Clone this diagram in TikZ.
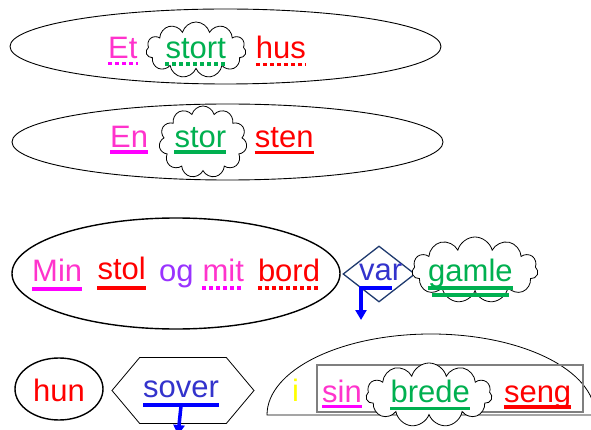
\documentclass[tikz,border=0pt]{standalone}
\usepackage{fontspec}
\setmainfont{Liberation Sans}
\usetikzlibrary{positioning,shapes.geometric,shapes.symbols,arrows.meta}
\definecolor{pinkish}{HTML}{FF33CC}
\definecolor{magentaLine}{HTML}{FF00FF}
\definecolor{grassGreen}{HTML}{00B050}
\definecolor{purpleOg}{HTML}{9933FF}
\definecolor{indigoVerb}{HTML}{3333CC}
\definecolor{navyEdge}{HTML}{1F3A6E}
\definecolor{yellowPrep}{HTML}{FFFF00}
\definecolor{grayEdge}{HTML}{7F7F7F}

\begin{document}
\begin{tikzpicture}[x=1pt, y=-1pt,
			word/.style={font=\fontsize{31}{36}\selectfont, inner sep=0pt, anchor=base west},
			phrase/.style={draw, ellipse, inner sep=0pt, line width=0.9pt},
			thickPhrase/.style={phrase, line width=1.4pt},
			cloudBox/.style={draw, cloud, cloud puffs=11, cloud ignores aspect, fill=white, inner sep=0pt, line width=0.8pt},
			verbBox/.style={draw=navyEdge, line width=1.3pt, inner sep=0pt},
			frameBox/.style={draw=grayEdge, line width=1.1pt, rectangle, inner sep=0pt},
			solidLine/.style={line width=3.5pt},
			dottedLine/.style={line width=3.3pt, dash pattern=on 4pt off 3pt},
			verbArrow/.style={line width=3.5pt, blue, -{Triangle[length=10pt,width=11pt]}},
			]
			\useasboundingbox (0,0) rectangle (591,430);
			
			% phrases
			\draw node[phrase, minimum width=431pt, minimum height=75pt] (row1) at (225.5,46.5) {};
			\draw node[phrase, minimum width=431pt, minimum height=76pt] (row2) at (227.5,142) {};
			\draw node[thickPhrase, minimum width=328pt, minimum height=111pt] (row3) at (176,273.5) {};
			\draw node[thickPhrase, minimum width=88pt, minimum height=62pt] (hunBox) at (59,389) {};
			\draw node[verbBox, diamond, minimum width=72pt, minimum height=56pt] (varBox) at (379,274) {};
			\draw node[verbBox, draw=black, line width=0.8pt, signal, signal to=west and east, signal pointer angle=100, minimum width=142pt, minimum height=66pt] (soverBox) at (183,390.5) {};
			
			% prepositional phrase
			\coordinate (ppLeft) at (267,415);
			\coordinate (ppRight) at (600,415);
			\draw[line width=0.8pt] (ppRight) -- (ppLeft) arc[start angle=180, end angle=0, x radius=164pt, y radius=81pt];
			\draw node[frameBox, minimum width=266pt, minimum height=47pt] (frame) at (450,388.5) {};
			
			% clouds
			\draw node[cloudBox, minimum width=100pt, minimum height=56pt] (cloud1) at (196,50) {};
			\draw node[cloudBox, minimum width=88pt, minimum height=72pt] (cloud2) at (203,142) {};
			\draw node[cloudBox, minimum width=126pt, minimum height=66pt] (cloud3) at (475,270) {};
			\draw node[cloudBox, minimum width=126pt, minimum height=64pt] (cloud4) at (429,395) {};
			
			% words
			\draw node[word, pinkish] (et) at (108,59) {Et};
			\draw node[word, grassGreen, base right=27.7pt of et] (stort) {stort};
			\draw node[word, red, base right=29.7pt of stort] (hus) {hus};
			
			\draw node[word, pinkish] (en) at (110,148) {En};
			\draw node[word, grassGreen, base right=26pt of en] (stor) {stor};
			\draw node[word, red, base right=28.3pt of stor] (sten) {sten};
			
			\draw node[word, pinkish] (min) at (32,281) {Min};
			\draw node[word, red, yshift=2pt, base right=15pt of min] (stol) {stol};
			\draw node[word, purpleOg] (og) at (159,281) {og};
			\draw node[word, pinkish, base right=8.5pt of og] (mit) {mit};
			\draw node[word, red, base right=13.7pt of mit] (bord) {bord};
			
			\draw node[word, indigoVerb] (var) at (359,280) {var};
			\draw node[word, grassGreen] (gamle) at (428,281) {gamle};
			
			\draw node[word, red] (hun) at (33,401) {hun};
			\draw node[word, indigoVerb] (sover) at (143,397) {sover};
			\draw node[word, yellowPrep] (i) at (292,401) {i};
			\draw node[word, pinkish] (sin) at (322,402) {sin};
			\draw node[word, grassGreen, base right=28.4pt of sin] (brede) {brede};
			\draw node[word, red, base right=33.7pt of brede] (seng) {seng};
			
			% underlines
			\foreach \w/\c/\d in {et/magentaLine/4.5, stort/grassGreen/5, hus/red/5.5, mit/magentaLine/7, bord/red/7}
			\draw [dottedLine, \c] ([yshift=-\d pt]\w.base west) -- ([yshift=-\d pt]\w.base east);
			\foreach \w/\c/\d in {en/magentaLine/4, stor/grassGreen/4, sten/red/4.5, min/magentaLine/8, stol/red/9, gamle/grassGreen/7, sin/magentaLine/4.5, brede/grassGreen/6.5, seng/red/5}
			\draw [solidLine, \c] ([yshift=-\d pt]\w.base west) -- ([yshift=-\d pt]\w.base east);
			\draw [solidLine, grassGreen] ([xshift=4pt, yshift=-14pt]gamle.base west) -- ([xshift=-4pt, yshift=-14pt]gamle.base east);
			
			% Arrow
			\coordinate (varCorner) at ([xshift=2pt, yshift=-8pt]var.base west);
			\coordinate (varTip) at (361,320);
			\coordinate (soverTip) at (178,435);
			\draw [verbArrow] ([xshift=33pt, yshift=-8pt]var.base west) -- (varCorner) -- (varTip);
			\draw [solidLine, blue] ([yshift=-8pt]sover.base west) -- ([yshift=-8pt]sover.base east);
			\draw [verbArrow] ([yshift=-8pt]sover.base) -- (soverTip);
			
		\end{tikzpicture}
\end{document}
